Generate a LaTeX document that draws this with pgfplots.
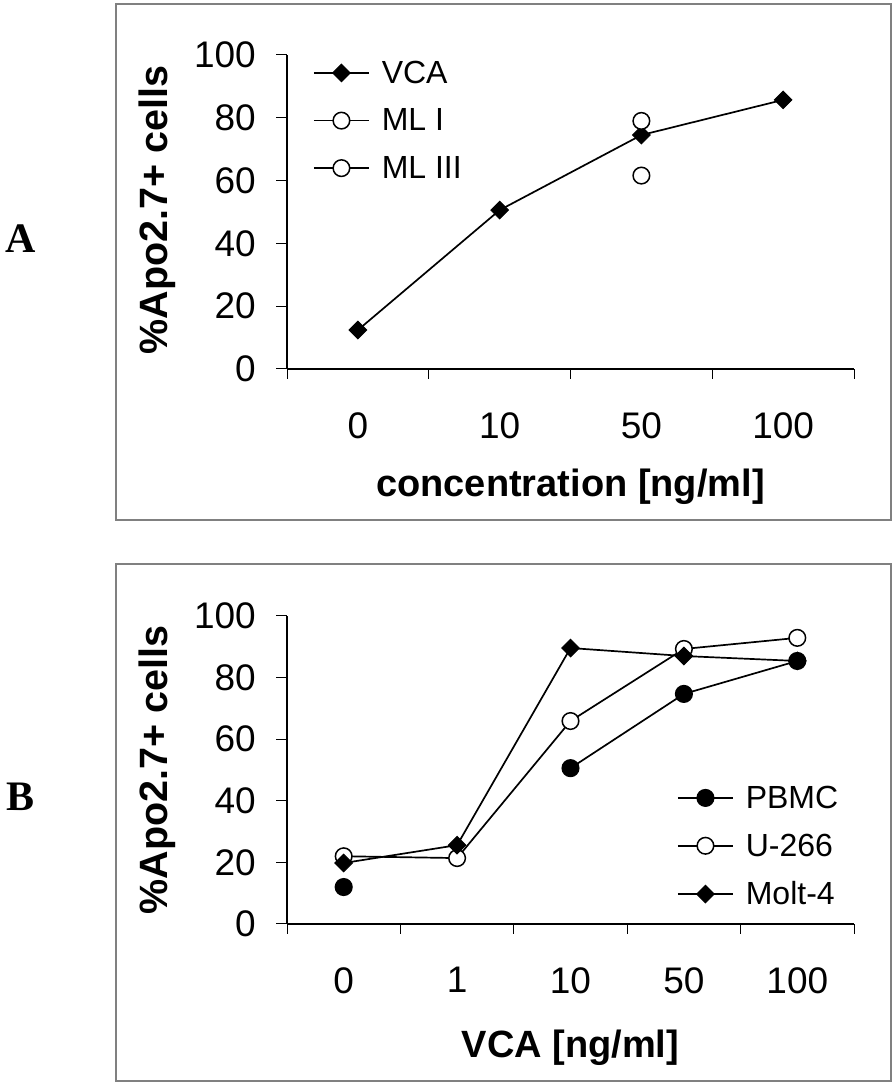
\documentclass[border=0pt]{standalone}
\usepackage{fontspec}
\setmainfont{Liberation Sans}
\newfontfamily\serifb{Liberation Serif}
\usepackage{pgfplots}
\pgfplotsset{compat=1.18}
\newcommand{\fs}[1]{\fontsize{#1}{#1}\selectfont}

\pgfplotsset{
  panel/.style={
    scale only axis,
    width=567pt,
    axis x line*=bottom,
    axis y line*=left,
    axis line style={line width=1.2pt, black},
    ymin=0, ymax=100,
    ytick={0,20,40,60,80,100},
    tick align=outside,
    major tick length=11pt,
    minor tick length=10pt,
    major x tick style={draw=none},
    minor x tick style={line width=1pt, black},
    major y tick style={line width=1pt, black},
    /pgf/number format/assume math mode=true,
    ticklabel style={font=\fs{37}},
    yticklabel style={anchor=east, inner sep=0pt, xshift=-20pt},
    xticklabel style={anchor=north, inner sep=0pt, yshift=-32pt},
    xlabel style={font=\bfseries\fs{38}},
    ylabel style={font=\bfseries\fs{39.5}},
    clip=false,
    legend cell align=left,
    legend image code/.code={%
      \draw[mark repeat=2,mark phase=2,#1] plot coordinates {(0pt,0pt) (27.5pt,0pt) (55pt,0pt)};},
    legend style={draw=none, fill=none, inner sep=0pt, outer sep=0pt,
      font=\fs{32}, row sep=0pt,
      nodes={inner sep=12pt}},
  },
  ser/.style={black, line width=1.7pt, mark options={solid, line width=1.4pt}},
  dia/.style={ser, mark=square*, mark size=6.2pt, mark options={rotate=45, fill=black, solid, line width=1pt}},
  ocirc/.style={ser, mark=*, mark size=8.3pt, mark options={fill=white, solid, line width=1.5pt}},
  fcirc/.style={ser, mark=*, mark size=8.3pt, mark options={fill=black, solid, line width=1.5pt}},
}

\begin{document}
\begin{tikzpicture}
\useasboundingbox (0pt,0pt) rectangle (893pt,1083pt);
\draw[gray, line width=1.5pt] (116pt,563pt) rectangle (891pt,1079pt);
\draw[gray, line width=1.5pt] (116pt,2pt) rectangle (891pt,519pt);
\node[font=\serifb\bfseries\fs{42}] at (21pt,844pt) {A};
\node[font=\serifb\bfseries\fs{42}] at (21pt,286pt) {B};

% Panel A
\begin{axis}[panel,
  at={(287pt,714pt)}, anchor=south west,
  height=314pt,
  xmin=-0.5, xmax=3.5,
  xtick={0,1,2,3}, xticklabels={0,10,50,100},
  minor xtick={-0.5,0.5,1.5,2.5,3.5},
  xlabel={concentration [ng/ml]},
  ylabel={\%Apo2.7+ cells},
  xlabel style={at={(axis description cs:0.5,-0.4045)}, anchor=base},
  ylabel style={at={(axis description cs:-0.2116,0.506)}, anchor=base, rotate=0},
  legend style={at={(axis description cs:0.046,1.019)}, anchor=north west},
]
\addplot[dia] coordinates {(0,12.4) (1,50.6) (2,74.5) (3,85.7)};
\addlegendentry{VCA}
\addplot[ocirc] coordinates {(2,79)};
\addlegendentry{ML I}
\addplot[ocirc] coordinates {(2,61.6)};
\addlegendentry{ML III}
\end{axis}

% Panel B
\begin{axis}[panel,
  at={(287pt,159pt)}, anchor=south west,
  height=308pt,
  xmin=-0.5, xmax=4.5,
  xtick={0,1,2,3,4}, xticklabels={0,1,10,50,100},
  minor xtick={-0.5,0.5,1.5,2.5,3.5,4.5},
  xlabel={VCA [ng/ml]},
  ylabel={\%Apo2.7+ cells},
  xlabel style={at={(axis description cs:0.5,-0.435)}, anchor=base},
  ylabel style={at={(axis description cs:-0.2116,0.5)}, anchor=base, rotate=0},
  legend style={at={(axis description cs:0.688,0.487)}, anchor=north west},
  unbounded coords=jump,
]
\addplot[fcirc] coordinates {(0,12) (1,nan) (2,50.6) (3,74.7) (4,85.4)};
\addlegendentry{PBMC}
\addplot[ocirc] coordinates {(0,22) (1,21.4) (2,65.9) (3,89.3) (4,92.9)};
\addlegendentry{U-266}
\addplot[dia] coordinates {(0,19.8) (1,25.6) (2,89.6) (3,87) (4,85.4)};
\addlegendentry{Molt-4}
\end{axis}
\end{tikzpicture}
\end{document}
